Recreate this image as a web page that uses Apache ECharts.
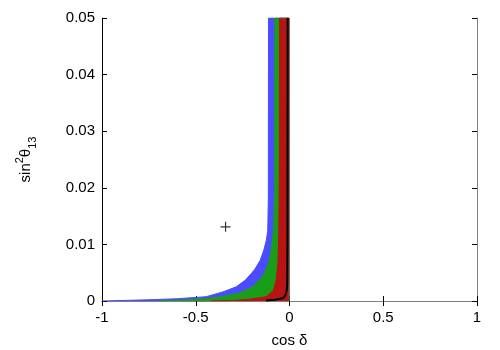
<!DOCTYPE html>
<html>
<head>
<meta charset="utf-8">
<script src="https://cdn.jsdelivr.net/npm/echarts@6/dist/echarts.min.js"></script>
<style>
  html, body { margin: 0; padding: 0; background: #fff; }
  #chart { width: 500px; height: 350px; }
</style>
</head>
<body>
<div id="chart"></div>
<script>
// x = cos delta, y = sin^2 theta13 (left edge of each allowed region, region runs to cos delta = 0)
const xTicks = [-1, -0.5, 0, 0.5, 1]
const yTicks = [0, 0.01, 0.02, 0.03, 0.04, 0.05]

const blueEdge = [[-1, 0], [-0.76, 0.0002], [-0.6, 0.0004], [-0.444, 0.00076], [-0.356, 0.0016],
  [-0.284, 0.0025], [-0.235, 0.0037], [-0.187, 0.0055], [-0.156, 0.0072], [-0.137, 0.009],
  [-0.123, 0.0108], [-0.116, 0.0125], [-0.113, 0.018], [-0.112, 0.05]]
const greenEdge = [[-0.7, 0], [-0.55, 0.0002], [-0.45, 0.0004], [-0.373, 0.0007], [-0.267, 0.0014],
  [-0.196, 0.0025], [-0.142, 0.0044], [-0.112, 0.0066], [-0.098, 0.009], [-0.085, 0.0125],
  [-0.079, 0.02], [-0.078, 0.05]]
const redEdge = [[-0.42, 0], [-0.3, 0.0001], [-0.213, 0.0003], [-0.124, 0.00076], [-0.085, 0.0019],
  [-0.071, 0.0037], [-0.062, 0.0066], [-0.057, 0.0125], [-0.054, 0.025], [-0.053, 0.05]]
const blackCurve = [[-0.125, 0.0001], [-0.08, 0.0002], [-0.036, 0.00047], [-0.022, 0.001],
  [-0.015, 0.0018], [-0.012, 0.003], [-0.011, 0.01], [-0.01, 0.05]]
const bestFit = [[-0.341, 0.0131]]

// close each region on the right side at cos delta = 0
function region(edge) {
  return edge.concat([[-0.003, 0.05], [-0.003, 0]])
}

function areaSeries(name, edge, color) {
  return {
    name: name,
    type: 'line',
    data: region(edge),
    showSymbol: false,
    lineStyle: { color: color, width: 1 },
    areaStyle: { color: color, opacity: 1 }
  }
}

const chart = echarts.init(document.getElementById('chart'))
const font = 'Liberation Sans, Arial, sans-serif'

const option = {
  animation: false,
  grid: { left: 102, right: 23, top: 18, bottom: 49, containLabel: false, outerBoundsMode: 'none' },
  xAxis: [
    {
      type: 'value', min: -1, max: 1, interval: 0.5,
      name: 'cos δ', nameLocation: 'middle', nameGap: 32,
      nameTextStyle: { fontFamily: font, fontSize: 15, color: '#000' },
      axisLine: { lineStyle: { color: '#808080', width: 1 } },
      axisTick: { inside: true, length: 5, lineStyle: { color: '#000' } },
      axisLabel: { fontFamily: font, fontSize: 15, color: '#000', margin: 9 },
      splitLine: { show: false }
    },
    {
      type: 'value', position: 'top', min: -1, max: 1, interval: 0.5,
      axisLine: { lineStyle: { color: '#808080', width: 1 } },
      axisTick: { inside: true, length: 5, lineStyle: { color: '#000' } },
      axisLabel: { show: false },
      splitLine: { show: false }
    }
  ],
  yAxis: [
    {
      type: 'value', min: 0, max: 0.05, interval: 0.01,
      name: '{a|sin}{sup|2}{a|θ}{sub|13}', nameLocation: 'middle', nameGap: 64, nameRotate: 90,
      nameTextStyle: {
        fontFamily: font, color: '#000',
        rich: {
          a: { fontFamily: font, fontSize: 15, color: '#000', lineHeight: 24 },
          sup: { fontFamily: font, fontSize: 11, color: '#000', verticalAlign: 'top', lineHeight: 13 },
          sub: { fontFamily: font, fontSize: 11, color: '#000', verticalAlign: 'bottom', lineHeight: 13 }
        }
      },
      axisLine: { onZero: false, lineStyle: { color: '#000', width: 1 } },
      axisTick: { inside: true, length: 5, lineStyle: { color: '#000' } },
      axisLabel: { fontFamily: font, fontSize: 15, color: '#000', margin: 7 },
      splitLine: { show: false }
    },
    {
      type: 'value', position: 'right', min: 0, max: 0.05, interval: 0.01,
      axisLine: { show: true, onZero: false, lineStyle: { color: '#808080', width: 1 } },
      axisTick: { inside: true, length: 5, lineStyle: { color: '#000' } },
      axisLabel: { show: false },
      splitLine: { show: false }
    }
  ],
  series: [
    areaSeries('blue', blueEdge, '#4b4bff'),
    areaSeries('green', greenEdge, '#1a9e1a'),
    areaSeries('red', redEdge, '#b81414'),
    {
      name: 'black',
      type: 'line',
      data: blackCurve,
      showSymbol: false,
      lineStyle: { color: '#000', width: 2 }
    },
    {
      name: 'best fit',
      type: 'scatter',
      data: bestFit,
      symbol: 'path://M4.4,0h1.2v10h-1.2zM0,4.4h10v1.2h-10z',
      symbolSize: 10,
      itemStyle: { color: '#000' }
    }
  ]
}

chart.setOption(option)
</script>
</body>
</html>
